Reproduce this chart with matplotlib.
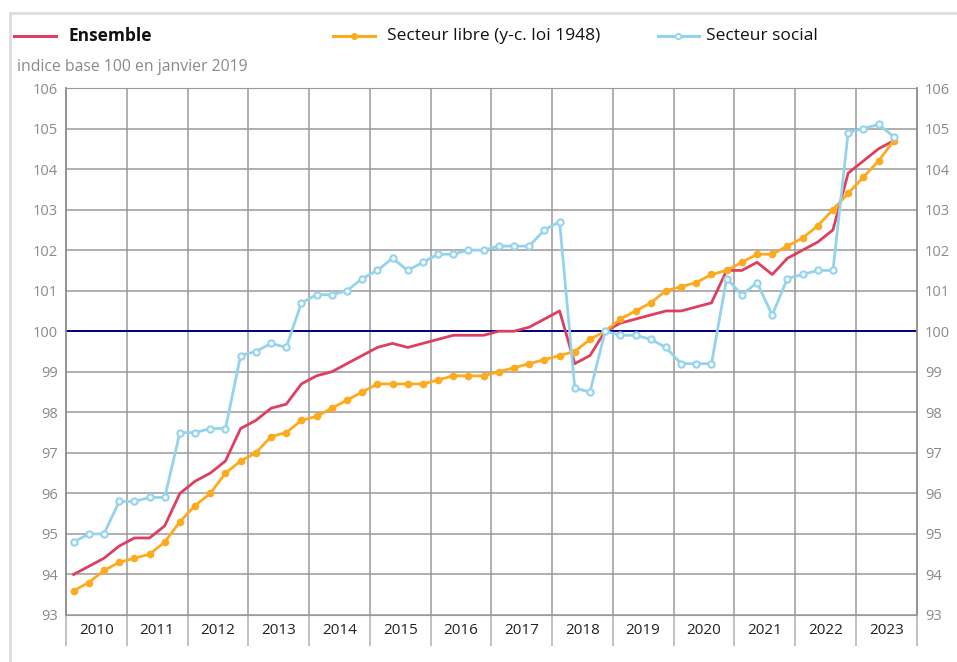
import matplotlib
matplotlib.use("Agg")
import matplotlib.pyplot as plt
from matplotlib.lines import Line2D

plt.rcParams['font.family'] = ['Open Sans', 'DejaVu Sans']

# quarterly index values, 2010 T1 -> 2023 T3
years = [str(y) for y in range(2010, 2024)]
ensemble = [94.0, 94.2, 94.4, 94.7, 94.9, 94.9, 95.2, 96.0, 96.3, 96.5, 96.8, 97.6,
            97.8, 98.1, 98.2, 98.7, 98.9, 99.0, 99.2, 99.4, 99.6, 99.7, 99.6, 99.7,
            99.8, 99.9, 99.9, 99.9, 100.0, 100.0, 100.1, 100.3, 100.5, 99.2, 99.4, 100.0,
            100.2, 100.3, 100.4, 100.5, 100.5, 100.6, 100.7, 101.5, 101.5, 101.7, 101.4, 101.8,
            102.0, 102.2, 102.5, 103.9, 104.2, 104.5, 104.7]
libre = [93.6, 93.8, 94.1, 94.3, 94.4, 94.5, 94.8, 95.3, 95.7, 96.0, 96.5, 96.8,
         97.0, 97.4, 97.5, 97.8, 97.9, 98.1, 98.3, 98.5, 98.7, 98.7, 98.7, 98.7,
         98.8, 98.9, 98.9, 98.9, 99.0, 99.1, 99.2, 99.3, 99.4, 99.5, 99.8, 100.0,
         100.3, 100.5, 100.7, 101.0, 101.1, 101.2, 101.4, 101.5, 101.7, 101.9, 101.9, 102.1,
         102.3, 102.6, 103.0, 103.4, 103.8, 104.2, 104.7]
social = [94.8, 95.0, 95.0, 95.8, 95.8, 95.9, 95.9, 97.5, 97.5, 97.6, 97.6, 99.4,
          99.5, 99.7, 99.6, 100.7, 100.9, 100.9, 101.0, 101.3, 101.5, 101.8, 101.5, 101.7,
          101.9, 101.9, 102.0, 102.0, 102.1, 102.1, 102.1, 102.5, 102.7, 98.6, 98.5, 100.0,
          99.9, 99.9, 99.8, 99.6, 99.2, 99.2, 99.2, 101.3, 100.9, 101.2, 100.4, 101.3,
          101.4, 101.5, 101.5, 104.9, 105.0, 105.1, 104.8]
labels = ["Ensemble", "Secteur libre (y-c. loi 1948)", "Secteur social"]

RED = "#de3e5f"
ORANGE = "#fdaa1e"
BLUE = "#94d3ee"
GRID = "#9a9a9a"
TXT_GREY = "#8a8a8a"

fig = plt.figure(figsize=(9.57, 6.62), dpi=100)
ax = fig.add_axes([66 / 957, 1 - 615 / 662, (916.5 - 66) / 957, (615 - 88) / 662])

x = list(range(len(ensemble)))
ax.axhline(100, color="#000080", lw=1.4, zorder=2)
ax.plot(x, ensemble, color=RED, lw=2, zorder=3)
ax.plot(x, libre, color=ORANGE, lw=2, marker="o", ms=4.5, zorder=4)
ax.plot(x, social, color=BLUE, lw=2, marker="o", ms=4.5, mfc="white", mew=1.5, zorder=5)

ax.set_ylim(93, 106)
ax.set_xlim(-0.5, 4 * len(years) - 0.5)
ax.set_yticks(range(93, 107))
ax.grid(axis="y", color=GRID, lw=1.1)
ax.set_axisbelow(True)

# year separators (extend below the axis as ticks)
bounds = [4 * i - 0.5 for i in range(len(years) + 1)]
for b in bounds[1:-1]:
    ax.axvline(b, color=GRID, lw=1.1, zorder=1)
ax.set_xticks(bounds)
ax.set_xticklabels([])
ax.tick_params(axis="x", which="major", length=22, width=1.1, color="#b0b0b0", direction="out")
ax.set_xticks([4 * i + 1.5 for i in range(len(years))], minor=True)
ax.set_xticklabels(years, minor=True, fontsize=11, color="#222222")
ax.tick_params(axis="x", which="minor", length=0, pad=6)

ax.tick_params(axis="y", length=0, labelsize=10.5, labelcolor=TXT_GREY, pad=6,
               labelleft=True, labelright=True)

for s in ["left", "right"]:
    ax.spines[s].set_color("#8a8a8a")
    ax.spines[s].set_linewidth(1.3)
ax.spines["top"].set_color(GRID)
ax.spines["bottom"].set_color(GRID)

# legend row
W, H = 957, 662
def fx(px):
    return px / W
def fy(py):
    return 1 - py / H

ly = fy(36)
fig.add_artist(Line2D([fx(14), fx(56)], [ly, ly], color=RED, lw=2.2))
fig.text(fx(68), ly, labels[0], fontsize=12.5, fontweight="bold", va="center", color="#111111")
fig.add_artist(Line2D([fx(333), fx(375)], [ly, ly], color=ORANGE, lw=2.2))
fig.add_artist(Line2D([fx(354)], [ly], color=ORANGE, marker="o", ms=4))
fig.text(fx(387), ly, labels[1], fontsize=12.5, va="center", color="#111111")
fig.add_artist(Line2D([fx(658), fx(699)], [ly, ly], color=BLUE, lw=2.2))
fig.add_artist(Line2D([fx(678)], [ly], color=BLUE, marker="o", ms=4, mfc="white", mew=1.2))
fig.text(fx(706), ly, labels[2], fontsize=12.5, va="center", color="#111111")

fig.text(fx(17), fy(67), "indice base 100 en janvier 2019", fontsize=11.3, va="center", color=TXT_GREY)

# light frame (top and left)
fig.add_artist(Line2D([fx(10), 1], [fy(13), fy(13)], color="#dddddd", lw=2))
fig.add_artist(Line2D([fx(10), fx(10)], [fy(13), 0], color="#dddddd", lw=2))

fig.savefig("out.png", dpi=100)
